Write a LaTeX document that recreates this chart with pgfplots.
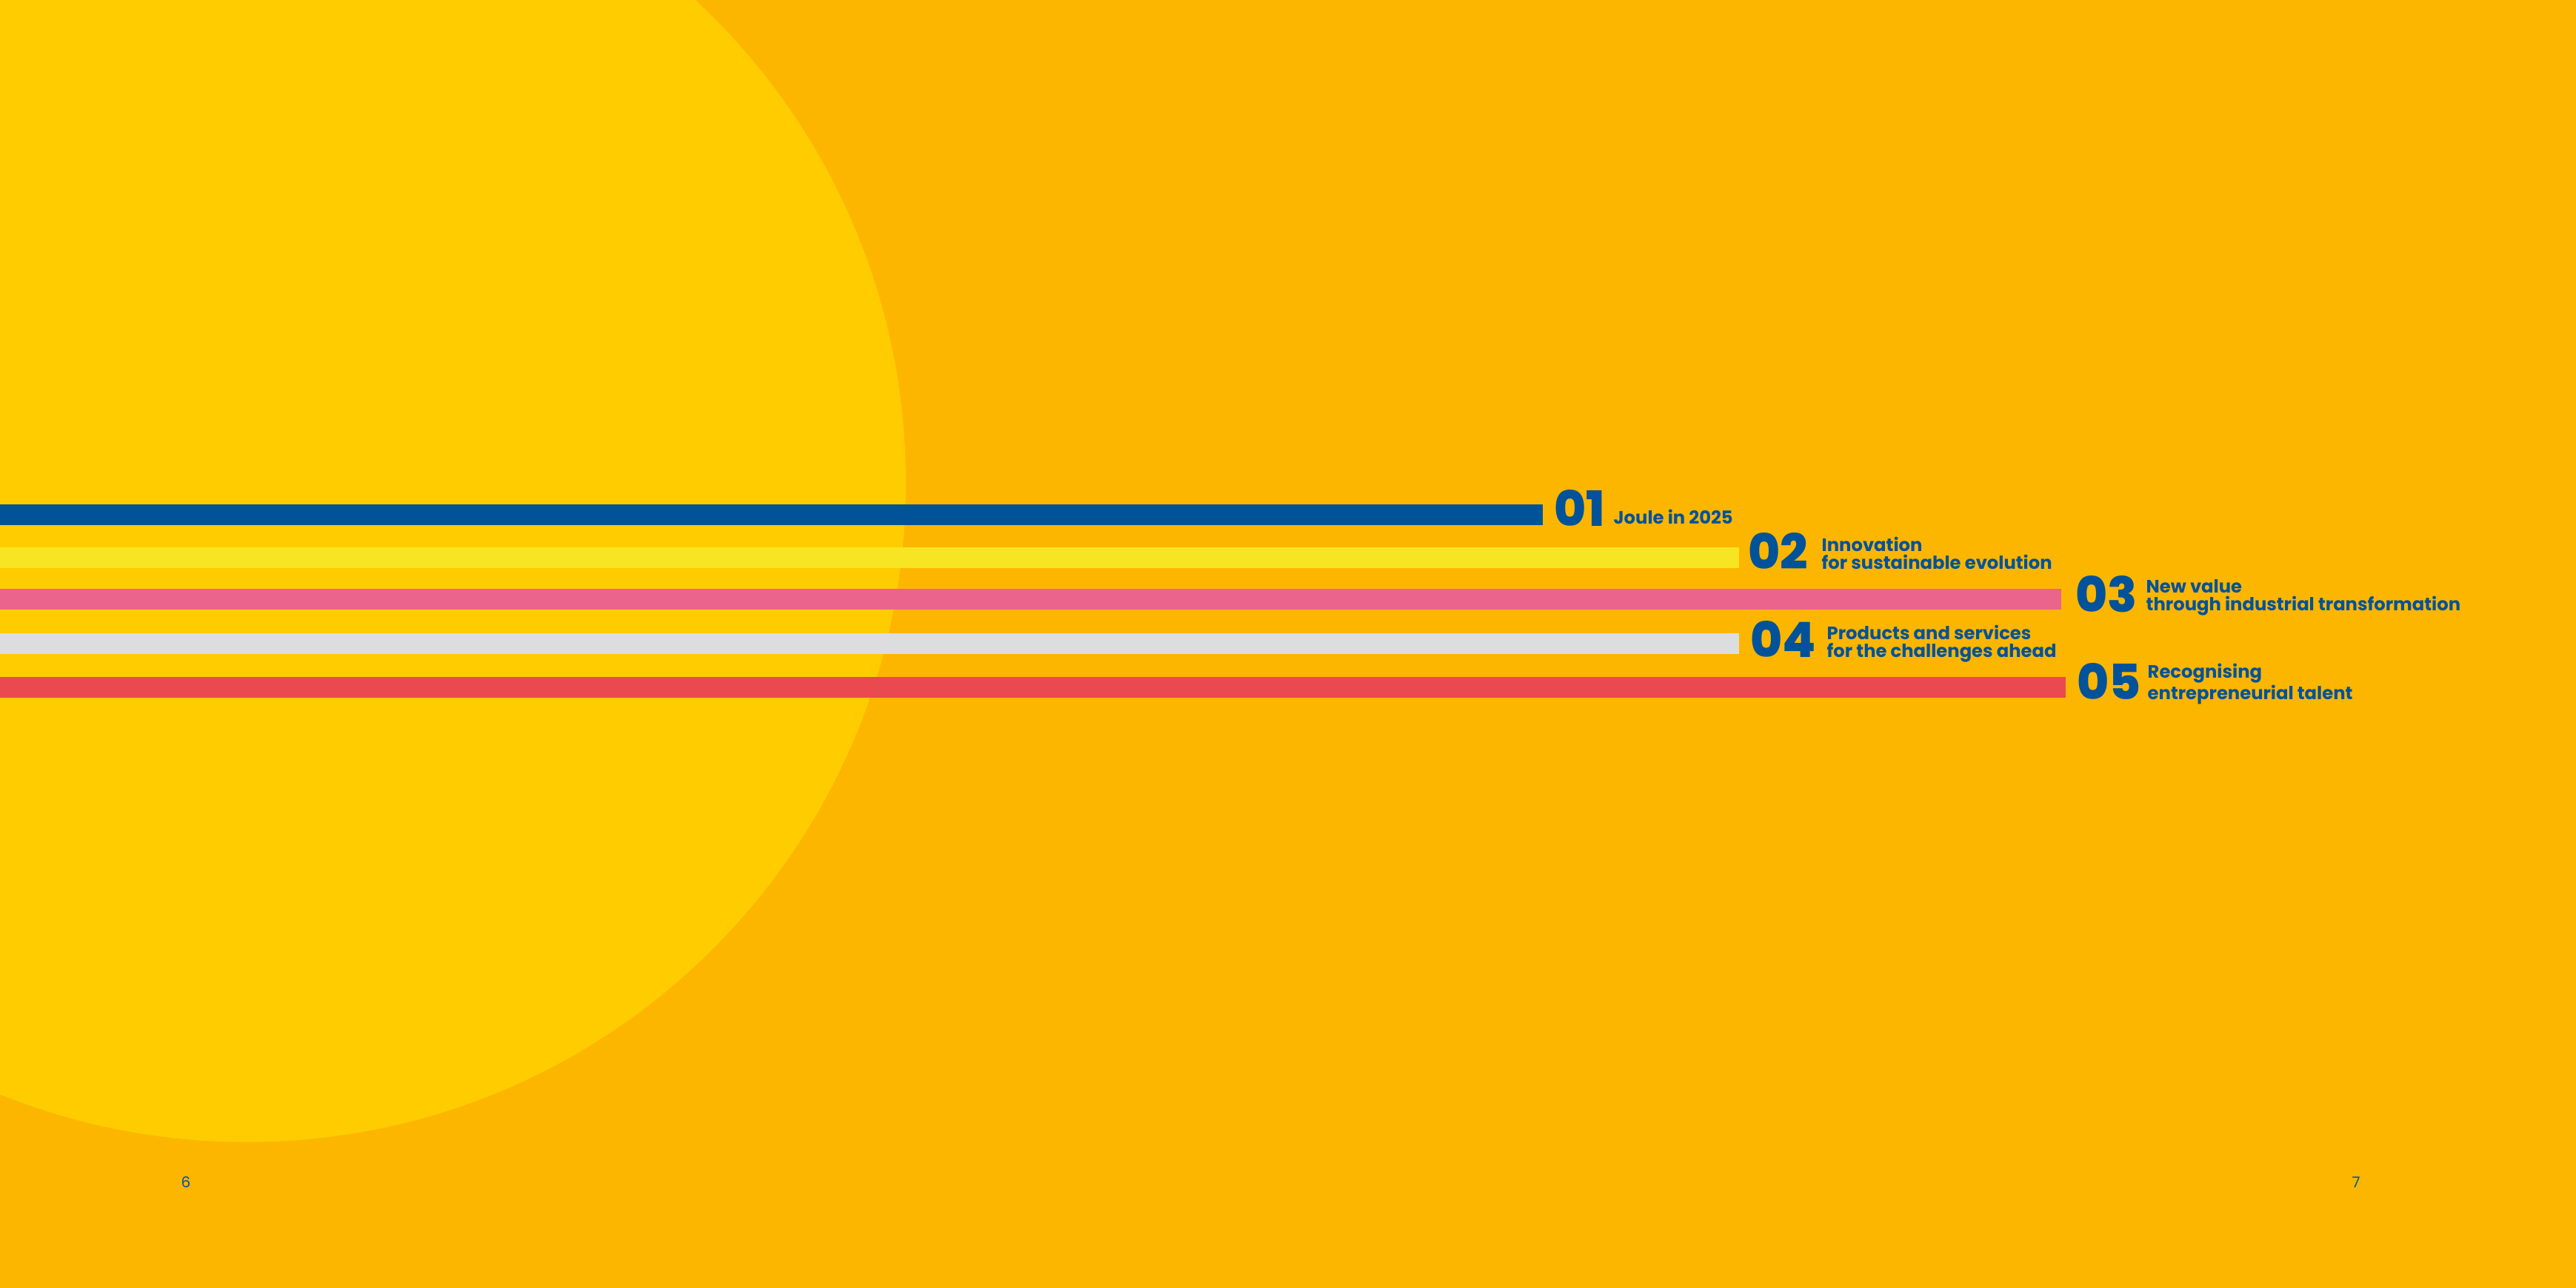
\documentclass[border=0pt]{standalone}
\usepackage{fontspec}
\setmainfont{Poppins}
\newfontfamily\numff{Poppins}[UprightFont=* ExtraBold]
\usepackage{pgfplots}
\pgfplotsset{compat=1.18}
\definecolor{bgorange}{RGB}{253,182,0}
\definecolor{sun}{RGB}{255,204,0}
\definecolor{cblue}{RGB}{0,83,152}
\definecolor{cyellow}{RGB}{247,229,35}
\definecolor{cpink}{RGB}{235,100,139}
\definecolor{cgray}{RGB}{220,221,223}
\definecolor{cred}{RGB}{233,73,79}
\definecolor{tblue}{RGB}{0,82,155}
\newcommand{\numfont}{\fontsize{18.7pt}{18.7pt}\selectfont\numff}
\newcommand{\labfont}{\fontsize{6.9pt}{7.1pt}\selectfont\bfseries}
\begin{document}
\begin{tikzpicture}
\useasboundingbox (0,0) rectangle (34.78cm,17.39cm);
\begin{scope}
\clip (0,0) rectangle (34.78cm,17.39cm);
\fill[bgorange] (0,0) rectangle (34.78cm,17.39cm);
\fill[sun] (3.33cm,10.87cm) circle (8.9cm);
\end{scope}
\begin{axis}[
  at={(0,0)}, anchor=south west,
  width=34.78cm, height=17.39cm, scale only axis,
  xmin=0, xmax=3478, ymin=0, ymax=1739,
  hide axis, clip=false,
]
\addplot[xbar, bar width=28, bar shift=0pt, fill=cblue, draw=none] coordinates {(2083,1044)};
\addplot[xbar, bar width=28, bar shift=0pt, fill=cyellow, draw=none] coordinates {(2348,986)};
\addplot[xbar, bar width=28, bar shift=0pt, fill=cpink, draw=none] coordinates {(2783,930)};
\addplot[xbar, bar width=28, bar shift=0pt, fill=cgray, draw=none] coordinates {(2348,870)};
\addplot[xbar, bar width=28, bar shift=0pt, fill=cred, draw=none] coordinates {(2789,811)};

\begin{scope}[every node/.style={anchor=base west, inner sep=0pt, text=tblue},
  lab/.style={font=\labfont, align=left}]
\node at (axis cs:2098,1028) {\numfont 01};
\node[lab] at (axis cs:2178,1031) {Joule in 2025};

\node at (axis cs:2360,970) {\numfont 02};
\node[lab] at (axis cs:2459,970) {Innovation\\for sustainable evolution};

\node at (axis cs:2802,912) {\numfont 03};
\node[lab] at (axis cs:2897,914) {New value\\through industrial transformation};

\node at (axis cs:2363,851) {\numfont 04};
\node[lab] at (axis cs:2466,851) {Products and services\\for the challenges ahead};

\node at (axis cs:2804,794) {\numfont 05};
\node[lab] at (axis cs:2899,794) {Recognising\\entrepreneurial talent};

\node at (axis cs:244,135) {\fontsize{5.7pt}{6pt}\selectfont 6};
\node at (axis cs:3175,135) {\fontsize{5.7pt}{6pt}\selectfont 7};
\end{scope}
\end{axis}
\end{tikzpicture}
\end{document}
